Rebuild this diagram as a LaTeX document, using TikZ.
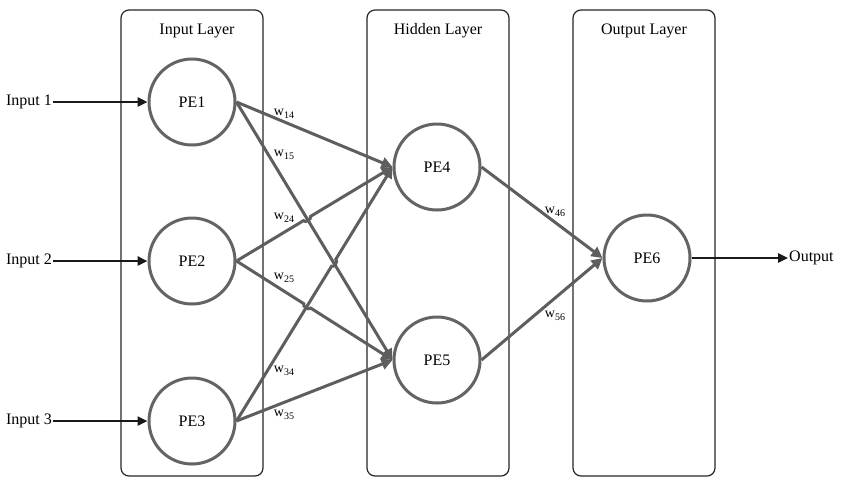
\documentclass[tikz,border=0pt]{standalone}
\usepackage{fontspec}
\setmainfont{Liberation Serif}
\usetikzlibrary{arrows.meta,intersections,calc,shadows}
\definecolor{edgegrey}{HTML}{5E5E5E}
\definecolor{ringgrey}{HTML}{646464}
\newcommand{\wsub}[1]{w\raisebox{-2.5pt}{\fontsize{10}{12}\selectfont #1}}
\begin{document}
\begin{tikzpicture}[x=1pt,y=-1pt,
  layerbox/.style={draw=black!85,line width=1.2pt,rounded corners=8pt,minimum width=142pt,minimum height=466pt,inner sep=0pt},
  pe/.style={circle,draw=ringgrey,line width=3pt,minimum size=86pt,inner sep=0pt,fill=white,
    font=\fontsize{16}{18}\selectfont,
    drop shadow={shadow xshift=1.2pt,shadow yshift=-1.2pt,opacity=0.18}},
  conn/.style={draw=edgegrey,line width=3pt,-{Triangle[length=11pt,width=11pt]}},
  inarrow/.style={draw=black!90,line width=2.4pt,-{Triangle[length=10pt,width=9pt]}},
  wlab/.style={font=\fontsize{14}{16}\selectfont,inner sep=0pt},
  title/.style={font=\fontsize{16}{18}\selectfont,inner sep=1pt},
  iolab/.style={font=\fontsize{16}{18}\selectfont,inner sep=1pt}]
\useasboundingbox (0,0) rectangle (842,483);

% layer boxes
\node[layerbox] (inbox) at (192,243) {};
\node[layerbox] (hidbox) at (438,243) {};
\node[layerbox] (outbox) at (644,243) {};
\node[title] (tin) at (197,31) {Input Layer};
\node[title] (thid) at (438,31) {Hidden Layer};
\node[title] (tout) at (644,31) {Output Layer};

% processing elements
\node[pe] (pe1) at (192,102) {PE1};
\node[pe] (pe2) at (192,261) {PE2};
\node[pe] (pe3) at (192,421) {PE3};
\node[pe] (pe4) at (437,167) {PE4};
\node[pe] (pe5) at (437,360) {PE5};
\node[pe] (pe6) at (647,258) {PE6};

% inputs and output
\node[iolab,anchor=east] (in1) at (53,102) {Input 1};
\node[iolab,anchor=east] (in2) at (53,261) {Input 2};
\node[iolab,anchor=east] (in3) at (53,421) {Input 3};
\node[iolab,anchor=west] (out) at (788,258) {Output};
\draw[inarrow] (in1.east) -- (pe1.west);
\draw[inarrow] (in2.east) -- (pe2.west);
\draw[inarrow] (in3.east) -- (pe3.west);
\draw[inarrow] (pe6.east) -- (pe6.east -| out.west);

% crossing points
\path[name path=p15] (pe1.east) -- (pe5.west);
\path[name path=p24] (pe2.east) -- (pe4.west);
\path[name path=p34] (pe3.east) -- (pe4.west);
\path[name path=p25] (pe2.east) -- (pe5.west);
\path[name intersections={of=p15 and p24, by=x1}];
\path[name intersections={of=p15 and p34, by=x2}];
\path[name intersections={of=p25 and p34, by=x3}];

% weighted connections
\draw[conn] (pe1.east) -- (pe4.west);
\draw[conn] (pe1.east) -- (pe5.west);
\draw[conn] (pe2.east) -- ($(x1)!4pt!(pe2.east)$) to[bend right=90] ($(x1)!4pt!(pe4.west)$) -- (pe4.west);
\draw[conn] (pe3.east) -- ($(x2)!4pt!(pe3.east)$) to[bend right=90] ($(x2)!4pt!(pe4.west)$) -- (pe4.west);
\draw[conn] (pe2.east) -- ($(x3)!4pt!(pe2.east)$) to[bend right=90] ($(x3)!4pt!(pe5.west)$) -- (pe5.west);
\draw[conn] (pe3.east) -- (pe5.west);
\draw[conn] (pe4.east) -- (pe6.west);
\draw[conn] (pe5.east) -- (pe6.west);

% weight labels
\node[wlab] (w14) at (284,114) {\wsub{14}};
\node[wlab] (w15) at (284,155) {\wsub{15}};
\node[wlab] (w24) at (284,218) {\wsub{24}};
\node[wlab] (w25) at (284,278) {\wsub{25}};
\node[wlab] (w34) at (284,371) {\wsub{34}};
\node[wlab] (w35) at (284,415) {\wsub{35}};
\node[wlab] (w46) at (555,212) {\wsub{46}};
\node[wlab] (w56) at (555,316) {\wsub{56}};
\end{tikzpicture}
\end{document}
